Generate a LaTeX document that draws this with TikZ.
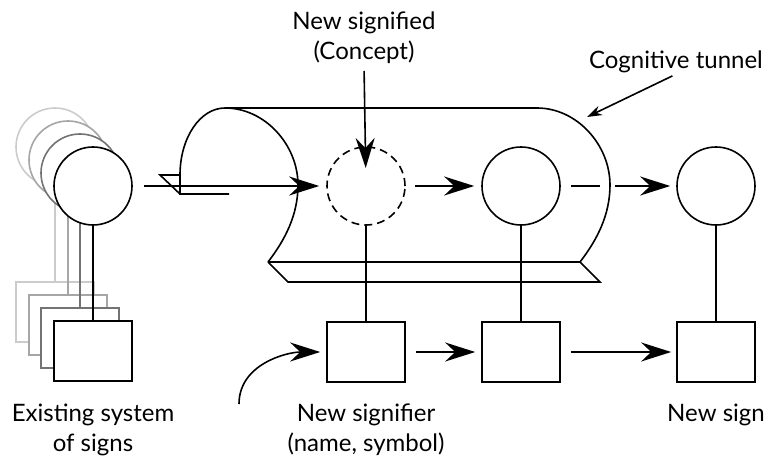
\documentclass[tikz,border=0pt]{standalone}
\usepackage{fontspec}
\setmainfont{Lato}
\usepackage{tikz}
\usetikzlibrary{arrows.meta,positioning}
\tikzset{
	sig/.style={draw,circle,minimum size=78pt,inner sep=0pt,fill=white},
	box/.style={draw,rectangle,minimum width=78pt,minimum height=60pt,fill=white},
	concept/.style={dash pattern=on 8pt off 5pt},
	lbl/.style={align=center,inner sep=0pt,font=\fontsize{24}{30}\selectfont},
	ghostA/.style={draw=black!20},
	ghostB/.style={draw=black!35},
	ghostC/.style={draw=black!55},
	big/.style={-{Stealth[length=30pt,width=19pt,inset=10pt]}},
	small/.style={-{Stealth[length=15pt,width=10pt,inset=5pt]}}
}

\begin{document}
\begin{tikzpicture}[x=1pt,y=-1pt,line width=1.6pt]
	\useasboundingbox (0,0) rectangle (769,460);
	
	% tunnel
	\draw (225,108) -- (537,108) .. controls (577,108) and (610,145) .. (610,185) .. controls (610,215) and (597,240) .. (580,262) -- (268,262);
	\draw (268,262) -- (288,282) -- (600,282) -- (580,262);
	\draw (225,108) .. controls (265,108) and (298,145) .. (298,185) .. controls (298,215) and (285,240) .. (268,262);
	\draw (225,108) .. controls (200,108) and (180,138) .. (180,175) -- (180,194) -- (229,194);
	\draw (180,175) -- (160,175) -- (180,194);
	
	% existing system of signs, stacked
	\node[sig,ghostA] (e3) at (55,147) {};
	\node[box,ghostA] (eb3) at (55,312) {};
	\draw[black!20] (e3) -- (eb3);
	\node[sig,ghostB] (e2) at (68,160) {};
	\node[box,ghostB] (eb2) at (68,325) {};
	\draw[black!35] (e2) -- (eb2);
	\node[sig,ghostC] (e1) at (80,173) {};
	\node[box,ghostC] (eb1) at (80,338) {};
	\draw[black!55] (e1) -- (eb1);
	\node[sig] (e0) at (93,186) {};
	\node[box] (eb0) at (93,351) {};
	\draw (e0) -- (eb0);
	
	% signified and signs
	\node[sig,concept] (dsig) at (366,186) {};
	\node[sig] (sig2) at (521,186) {};
	\node[sig] (sig3) at (716,186) {};
	\node[box] (b1) at (366,352) {};
	\node[box] (b2) at (521,352) {};
	\node[box] (b3) at (716,352) {};
	\draw (dsig) -- (b1);
	\draw (sig2) -- (b2);
	\draw (sig3) -- (b3);
	
	\node[coordinate] (gapl) at (600,186) {}; % break at the tunnel wall
	\node[coordinate] (gapr) at (615,186) {};
	\node[coordinate] (tunpt) at (587,117) {};
	\node[coordinate] (namein) at (239,404) {};
	
	\draw[big,shorten <=11pt,shorten >=7pt] (e0) -- (dsig);
	\draw[big,shorten <=9pt,shorten >=7pt] (dsig) -- (sig2);
	\draw[shorten <=10pt] (sig2.east) -- (gapl);
	\draw[big,shorten >=6pt] (gapr) -- (sig3.west);
	\draw[big,shorten <=10pt,shorten >=6pt] (b1) -- (b2);
	\draw[big,shorten <=10pt,shorten >=5pt] (b2) -- (b3);
	\draw[big,shorten >=6pt] (namein) to[out=90,in=180] (b1.west);
	
	% labels (base = last line)
	\node[lbl,anchor=base] (exist) at (93,451) {Existing system\\of signs};
	\node[lbl,anchor=base] (signifier) at (366,451) {New signifier\\(name, symbol)};
	\node[lbl,anchor=base] (newsign) at (716,421) {New sign};
	\node[lbl,anchor=base] (signified) at (364,60) {New signified\\(Concept)};
	\node[lbl,anchor=base] (tunlbl) at (676,69) {Cognitive tunnel};
	
	\draw[big,shorten <=6pt,shorten >=18pt] (signified.south) -- (dsig.center);
	\draw[small,shorten <=4pt] (tunlbl.south) -- (tunpt);
\end{tikzpicture}
\end{document}
